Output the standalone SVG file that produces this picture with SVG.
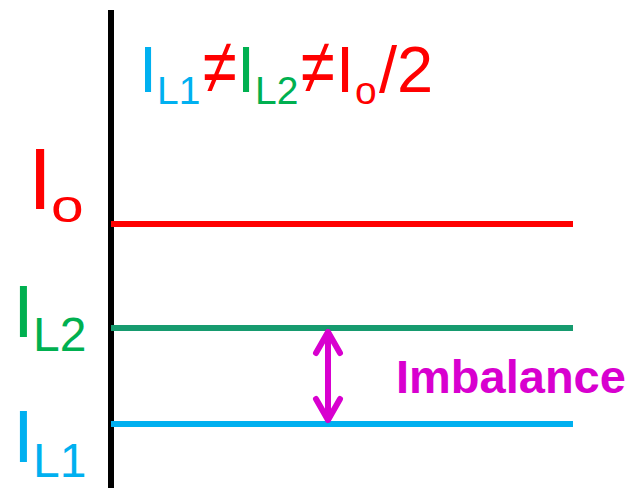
<svg xmlns="http://www.w3.org/2000/svg" width="634" height="488" viewBox="0 0 634 488">
<style>
text{font-family:"Liberation Sans",Arial,sans-serif}
.ax{stroke:#000;stroke-width:6}
.lvl{stroke-width:6;fill:none}
.arr{stroke:#D800CF;stroke-width:6;fill:none;stroke-linecap:round;stroke-linejoin:round}
.red{fill:#FF0000}.cy{fill:#00B0F0}.gr{fill:#00B050}
</style>
<rect width="634" height="488" fill="#fff"/>
<g id="axis"><line class="ax" x1="111" y1="10" x2="111" y2="488"/></g>
<g id="title">
<text font-size="65" y="92"><tspan x="139" class="cy">I</tspan><tspan x="157" y="104" font-size="39" class="cy">L1</tspan><tspan x="237" y="92" class="gr">I</tspan><tspan x="255" y="104" font-size="39" class="gr">L2</tspan><tspan x="336" y="92" class="red">I</tspan><tspan x="355" y="104" font-size="39" class="red">o</tspan><tspan x="379" y="92" class="red">/2</tspan></text>
<text transform="translate(221,68) scale(0.95,1.2)" x="-19" y="21" font-size="65" class="red">≠</text>
<text transform="translate(319,68) scale(0.95,1.2)" x="-19" y="21" font-size="65" class="red">≠</text>
</g>
<g id="label-Io">
<text x="28" y="209" font-size="87" class="red">I</text>
<text transform="translate(51,222) scale(1.25,1)" font-size="47" class="red">o</text>
</g>
<g id="label-IL2">
<text x="13" y="337" font-size="75" class="gr">I</text>
<text x="33" y="351" font-size="48" class="gr">L2</text>
</g>
<g id="label-IL1">
<text x="13" y="462" font-size="75" class="cy">I</text>
<text x="33" y="477" font-size="48" class="cy">L1</text>
</g>
<g id="connectors">
<line class="lvl" x1="111" y1="224" x2="573" y2="224" stroke="#FF0000"/>
<line class="lvl" x1="111" y1="328" x2="573" y2="328" stroke="#169B6F"/>
<line class="lvl" x1="111" y1="424" x2="573" y2="424" stroke="#00B0F0"/>
<path class="arr" d="M328,332 V420 M316,353 L328,332 L340,353 M316,399 L328,420 L340,399"/>
</g>
<g id="label-imbalance">
<text x="396" y="393" font-size="47" font-weight="bold" fill="#D800CF">Imbalance</text>
</g>
</svg>
